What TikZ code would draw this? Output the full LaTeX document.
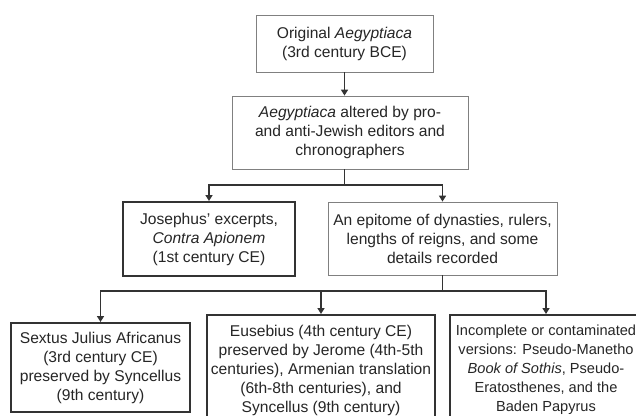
\documentclass[tikz,border=0pt]{standalone}
\usepackage{fontspec}
\setmainfont{Liberation Sans}
\usetikzlibrary{arrows.meta}
\begin{document}
\begin{tikzpicture}[x=1pt,y=-1pt,
  box/.style={draw=black!50, line width=0.8pt, align=center, inner sep=0pt,
    text=black!85, font=\fontsize{15.6}{19}\selectfont},
  boldbox/.style={box, draw=black!80, line width=2pt},
  ln/.style={draw=black!80, line width=1.8pt},
  arr/.style={ln, -{Triangle[width=7pt,length=6pt]}}]
\useasboundingbox (0,0) rectangle (636,415);
\clip (0,0) rectangle (636,415);
\fill[white] (0,0) rectangle (636,415);
\node[box, minimum width=177pt, minimum height=57pt] (top) at (344.5,43.5)
  {Original \textit{Aegyptiaca}\\(3rd century BCE)};
\node[box, minimum width=236pt, minimum height=73pt] (second) at (350,132.5)
  {\textit{Aegyptiaca} altered by pro-\\and anti-Jewish editors and\\chronographers};
\node[boldbox, minimum width=172pt, minimum height=74pt] (jos) at (209,239)
  {Josephus' excerpts,\\\textit{Contra Apionem}\\(1st century CE)};
\node[box, minimum width=229pt, minimum height=73pt] (epi) at (442.5,238.5)
  {An epitome of dynasties, rulers,\\lengths of reigns, and some\\details recorded};
\node[boldbox, minimum width=179pt, minimum height=89pt] (sex) at (100.5,367.5)
  {Sextus Julius Africanus\\(3rd century CE)\\preserved by Syncellus\\(9th century)};
\node[boldbox, minimum width=228pt, minimum height=110pt] (eus) at (321,370)
  {Eusebius (4th century CE)\\preserved by Jerome (4th-5th\\centuries), Armenian translation\\(6th-8th centuries), and\\Syncellus (9th century)};
\node[boldbox, minimum width=192pt, minimum height=110pt,
  font=\fontsize{14.6}{19}\selectfont] (inc) at (546,370)
  {Incomplete or contaminated\\versions: Pseudo-Manetho\\\textit{Book of Sothis}, Pseudo-\\Eratosthenes, and the\\Baden Papyrus};
\coordinate (j1) at (344.5,185);
\coordinate (j2) at (442.5,291);
\draw[arr] (top.south) -- (top.south |- second.north);
\draw[ln] (top.south |- second.south) -- (j1);
\draw[arr] (j1) -| (jos.north);
\draw[arr] (j1) -| (epi.north);
\draw[ln] (epi.south) -- (j2);
\draw[arr] (j2) -| (sex.north);
\draw[arr] (j2) -| (inc.north);
\draw[arr] (eus.north |- j2) -- (eus.north);
\end{tikzpicture}
\end{document}
